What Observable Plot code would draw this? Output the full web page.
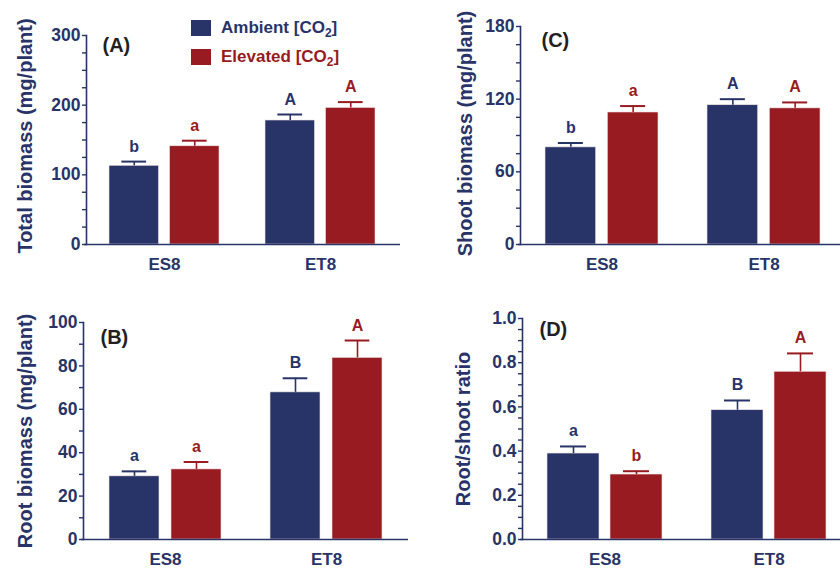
<!DOCTYPE html>
<html>
<head>
<meta charset="utf-8">
<script src="https://cdn.jsdelivr.net/npm/d3@7"></script>
<script src="https://cdn.jsdelivr.net/npm/@observablehq/plot@0.6"></script>
<style>
  body { margin: 0; background: #fff; }
  #wrap { position: relative; width: 840px; height: 568px; font-family: "Liberation Sans", Arial, sans-serif; }
  .cell { position: absolute; width: 420px; height: 284px; }
  .leg { position: absolute; font-size: 17px; font-weight: bold; line-height: 17px; white-space: nowrap; }
  .sw { position: absolute; width: 20px; height: 16px; }
  .leg sub { font-size: 12px; vertical-align: -4px; line-height: 0; }
</style>
</head>
<body>
<div id="wrap"></div>
<script>
// ---- data ----
const groups = ["ES8", "ET8"];
const treatments = ["Ambient", "Elevated"];

// (A) Total biomass (mg/plant)
const totalAmbient = [113, 178];
const totalAmbientSE = [6, 8.6];
const totalElevated = [141, 196];
const totalElevatedSE = [8, 8.4];
const totalAmbientLetters = ["b", "A"];
const totalElevatedLetters = ["a", "A"];

// (B) Root biomass (mg/plant)
const rootAmbient = [29.1, 67.8];
const rootAmbientSE = [2.3, 6.5];
const rootElevated = [32.3, 83.7];
const rootElevatedSE = [3.4, 8];
const rootAmbientLetters = ["a", "B"];
const rootElevatedLetters = ["a", "A"];

// (C) Shoot biomass (mg/plant)
const shootAmbient = [80.2, 115];
const shootAmbientSE = [3.6, 5];
const shootElevated = [109, 112.4];
const shootElevatedSE = [5.3, 4.9];
const shootAmbientLetters = ["b", "A"];
const shootElevatedLetters = ["a", "A"];

// (D) Root/shoot ratio
const ratioAmbient = [0.389, 0.585];
const ratioAmbientSE = [0.032, 0.044];
const ratioElevated = [0.294, 0.759];
const ratioElevatedSE = [0.015, 0.083];
const ratioAmbientLetters = ["a", "B"];
const ratioElevatedLetters = ["b", "A"];

// ---- style ----
const NAVY = "#283468";
const RED = "#971b20";
const INK = "#231f20";
const FONT = "'Liberation Sans', Arial, Helvetica, sans-serif";

function rowsOf(means, ses, letters, treatment) {
  return groups.map((g, i) => ({group: g, treatment, mean: means[i], se: ses[i], letter: letters[i]}));
}

function panel(cfg) {
  const amb = rowsOf(cfg.amb, cfg.ambSE, cfg.ambL, "Ambient");
  const ele = rowsOf(cfg.ele, cfg.eleSE, cfg.eleL, "Elevated");
  const inset = cfg.inset, bw = cfg.barW;
  const top = d => d.mean + d.se;
  const errMarks = (data, color, side) => [
    Plot.ruleX(data, {x: "group", y1: "mean", y2: top, stroke: color, strokeWidth: 1.6, dx: side * inset / 2}),
    Plot.tickY(data, {x: "group", y: top, stroke: color, strokeWidth: 2,
      insetLeft: side < 0 ? bw / 4 : inset + bw / 4, insetRight: side < 0 ? inset + bw / 4 : bw / 4}),
    Plot.text(data, {x: "group", y: top, text: "letter", dx: side * inset / 2, dy: -10, lineAnchor: "bottom",
      fill: color, fontWeight: "bold", fontSize: 16})
  ];
  return Plot.plot({
    width: 420, height: 284,
    marginLeft: cfg.ml, marginRight: cfg.mr, marginTop: cfg.mt, marginBottom: cfg.mb,
    style: {fontFamily: FONT, background: "transparent", overflow: "visible"},
    x: {domain: groups, paddingInner: cfg.pi, paddingOuter: cfg.po, align: cfg.align, axis: null},
    y: {domain: cfg.domain, axis: null},
    marks: [
      Plot.barY(amb, {x: "group", y: "mean", fill: NAVY, insetRight: inset, stroke: "#f3e4e4", strokeWidth: 0.6}),
      Plot.barY(ele, {x: "group", y: "mean", fill: RED, insetLeft: inset, stroke: "#f3e4e4", strokeWidth: 0.6}),
      ...errMarks(amb, NAVY, -1),
      ...errMarks(ele, RED, 1),
      Plot.axisY({ticks: cfg.ticks, tickSize: 4, tickPadding: 2, tickFormat: cfg.fmt, label: null,
        fontSize: 17.5, fontWeight: "bold", color: NAVY, strokeWidth: 1.4}),
      Plot.frame({anchor: "left", stroke: NAVY, strokeWidth: 1.6}),
      Plot.ruleY([cfg.domain[0]], {stroke: NAVY, strokeWidth: 1.6, insetLeft: -2}),
      Plot.axisX({tickSize: 0, tickPadding: 13, label: null, fontSize: 17, fontWeight: "bold", color: NAVY}),
      Plot.text([cfg.title], {frameAnchor: "left", textAnchor: "middle", rotate: -90, dx: cfg.titleDx, dy: cfg.titleDy,
        fill: NAVY, fontSize: 20, fontWeight: "bold"}),
      Plot.text([cfg.tag], {frameAnchor: "top-left", dx: cfg.tagDx, dy: cfg.tagDy, textAnchor: "start",
        lineAnchor: "top", fill: INK, fontSize: 20, fontWeight: "bold"})
    ]
  });
}

const range = (a, b, s) => d3.range(0, Math.round((b - a) / s) + 1).map(i => +(a + i * s).toFixed(4));

const panels = [
  {pos: [0, 0], tag: "(A)", title: "Total biomass (mg/plant)",
   amb: totalAmbient, ambSE: totalAmbientSE, ele: totalElevated, eleSE: totalElevatedSE,
   ambL: totalAmbientLetters, eleL: totalElevatedLetters,
   domain: [0, 300], ticks: range(0, 300, 25), fmt: d => d % 100 === 0 ? d : "",
   ml: 86, mr: 20, mt: 35, mb: 40, pi: 0.296, po: 0.152, align: 0.476, inset: 60.5, barW: 49.5,
   titleDx: -61, titleDy: -4, tagDx: 16, tagDy: 2},
  {pos: [420, 0], tag: "(C)", title: "Shoot biomass (mg/plant)",
   amb: shootAmbient, ambSE: shootAmbientSE, ele: shootElevated, eleSE: shootElevatedSE,
   ambL: shootAmbientLetters, eleL: shootElevatedLetters,
   domain: [0, 180], ticks: range(0, 180, 15), fmt: d => d % 60 === 0 ? d : "",
   ml: 100, mr: 0, mt: 26, mb: 40, pi: 0.300, po: 0.136, align: 0.56, inset: 62.3, barW: 51.3,
   titleDx: -55, titleDy: -2, tagDx: 21, tagDy: 6},
  {pos: [0, 284], tag: "(B)", title: "Root biomass (mg/plant)",
   amb: rootAmbient, ambSE: rootAmbientSE, ele: rootElevated, eleSE: rootElevatedSE,
   ambL: rootAmbientLetters, eleL: rootElevatedLetters,
   domain: [0, 100], ticks: range(0, 100, 10), fmt: d => d % 20 === 0 ? d : "",
   ml: 83, mr: 12, mt: 38, mb: 29, pi: 0.303, po: 0.156, align: 0.497, inset: 62, barW: 50.7,
   titleDx: -58, titleDy: 0, tagDx: 17, tagDy: 7},
  {pos: [420, 284], tag: "(D)", title: "Root/shoot ratio",
   amb: ratioAmbient, ambSE: ratioAmbientSE, ele: ratioElevated, eleSE: ratioElevatedSE,
   ambL: ratioAmbientLetters, eleL: ratioElevatedLetters,
   domain: [0, 1], ticks: range(0, 1, 0.05), fmt: d => Math.abs(d * 5 - Math.round(d * 5)) < 1e-6 ? d.toFixed(1) : "",
   ml: 102, mr: 0, mt: 34, mb: 29, pi: 0.300, po: 0.117, align: 0.65, inset: 63, barW: 52,
   titleDx: -59, titleDy: 0, tagDx: 17, tagDy: 3}
];

const wrap = document.getElementById("wrap");
for (const p of panels) {
  const cell = document.createElement("div");
  cell.className = "cell";
  cell.style.left = p.pos[0] + "px";
  cell.style.top = p.pos[1] + "px";
  cell.appendChild(panel(p));
  wrap.appendChild(cell);
}

// legend
const legendItems = [
  {label: "Ambient", color: NAVY, top: 20},
  {label: "Elevated", color: RED, top: 49}
];
for (const it of legendItems) {
  const sw = document.createElement("div");
  sw.className = "sw";
  sw.style.left = "191px";
  sw.style.top = it.top + "px";
  sw.style.background = it.color;
  wrap.appendChild(sw);
  const tx = document.createElement("div");
  tx.className = "leg";
  tx.style.left = "221px";
  tx.style.top = (it.top - 1.5) + "px";
  tx.style.color = it.color;
  tx.innerHTML = it.label + " [CO<sub>2</sub>]";
  wrap.appendChild(tx);
}
</script>
</body>
</html>
